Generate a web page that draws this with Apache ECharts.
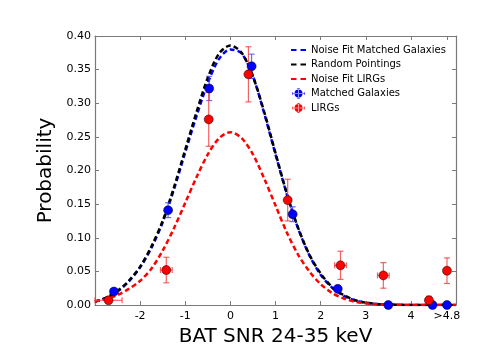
<!DOCTYPE html>
<html>
<head>
<meta charset="utf-8">
<script src="https://cdn.jsdelivr.net/npm/echarts@6/dist/echarts.min.js"></script>
<style>
  html, body { margin: 0; padding: 0; background: #fff; }
  #chart { width: 480px; height: 360px; }
</style>
</head>
<body>
<div id="chart"></div>
<script>
// curve sample positions (SNR)
const curveX = [-3, -2.75, -2.5, -2.25, -2, -1.75, -1.5, -1.25, -1, -0.75, -0.5, -0.25, 0,
  0.25, 0.5, 0.75, 1, 1.25, 1.5, 1.75, 2, 2.25, 2.5, 2.75, 3, 3.25, 3.5, 3.75, 4, 4.25, 4.5, 4.75, 5];

// Noise Fit Matched Galaxies
const fitMatched = [0.005, 0.011, 0.020, 0.035, 0.056, 0.085, 0.123, 0.172, 0.227, 0.281, 0.330, 0.366, 0.380,
  0.374, 0.340, 0.285, 0.224, 0.165, 0.114, 0.074, 0.045, 0.026, 0.014, 0.007, 0.0033, 0.0015, 0.0006, 0.0002, 0.0001, 0, 0, 0, 0];
// Random Pointings
const randomPointings = [0.005, 0.011, 0.021, 0.036, 0.057, 0.087, 0.125, 0.175, 0.231, 0.287, 0.338, 0.374, 0.386,
  0.375, 0.340, 0.287, 0.226, 0.166, 0.115, 0.075, 0.047, 0.027, 0.015, 0.0075, 0.0035, 0.0016, 0.0007, 0.0003, 0.0001, 0, 0, 0, 0];
// Noise Fit LIRGs
const fitLirgs = [0.005, 0.009, 0.015, 0.024, 0.036, 0.054, 0.081, 0.114, 0.152, 0.190, 0.224, 0.248, 0.257,
  0.248, 0.224, 0.188, 0.148, 0.108, 0.075, 0.050, 0.031, 0.018, 0.010, 0.005, 0.0025, 0.0012, 0.0005, 0.0002, 0.0001, 0, 0, 0, 0];

// Matched Galaxies points
const matchedX = [-2.58, -1.38, -0.47, 0.47, 1.38, 2.38, 3.5, 4.48, 4.8];
const matchedY = [0.020, 0.141, 0.322, 0.355, 0.135, 0.024, 0.0, 0.0, 0.0];
const matchedYErr = [0.004, 0.011, 0.018, 0.018, 0.011, 0.004, 0.001, 0.001, 0.001];
const matchedXErr = [0, 0, 0, 0, 0, 0, 0, 0, 0];

// LIRGs points
const lirgX = [-2.7, -1.42, -0.48, 0.4, 1.27, 2.44, 3.39, 4.4, 4.8];
const lirgY = [0.007, 0.052, 0.276, 0.343, 0.156, 0.059, 0.044, 0.007, 0.051];
const lirgYErr = [0.002, 0.019, 0.040, 0.041, 0.031, 0.021, 0.019, 0.006, 0.019];
const lirgXErr = [0.3, 0.13, 0, 0, 0, 0.13, 0.13, 0, 0];

const xTicks = [-2, -1, 0, 1, 2, 3, 4, 4.8];

const font = 'DejaVu Sans';
const frameColor = '#7a7a7a';

function zipCurve(ys) {
  return curveX.map((x, i) => [x, ys[i]]);
}

function errorRender(color) {
  return function (params, api) {
    const x = api.value(0), y = api.value(1), ex = api.value(2), ey = api.value(3);
    const style = { stroke: color, lineWidth: 1.2 };
    const children = [];
    const top = api.coord([x, y + ey]);
    const bot = api.coord([x, y - ey]);
    children.push({ type: 'line', shape: { x1: top[0], y1: top[1], x2: bot[0], y2: bot[1] }, style: style });
    children.push({ type: 'line', shape: { x1: top[0] - 3, y1: top[1], x2: top[0] + 3, y2: top[1] }, style: style });
    children.push({ type: 'line', shape: { x1: bot[0] - 3, y1: bot[1], x2: bot[0] + 3, y2: bot[1] }, style: style });
    if (ex > 0) {
      const l = api.coord([x - ex, y]);
      const r = api.coord([x + ex, y]);
      children.push({ type: 'line', shape: { x1: l[0], y1: l[1], x2: r[0], y2: r[1] }, style: style });
      children.push({ type: 'line', shape: { x1: l[0], y1: l[1] - 3, x2: l[0], y2: l[1] + 3 }, style: style });
      children.push({ type: 'line', shape: { x1: r[0], y1: r[1] - 3, x2: r[0], y2: r[1] + 3 }, style: style });
    }
    return { type: 'group', children: children };
  };
}

// legend icons: dashed line, and dot with error cross (30x20 box)
const dashIcon = 'path://M0,0 M30,20 M0,8H11V12H0Z M19,8H30V12H19Z';
const errIcon = 'path://M0,0 M30,20 M2,9.4H28V10.6H2Z M2,7H3V13H2Z M27,7H28V13H27Z M14.4,0H15.6V20H14.4Z M12,0H18V1H12Z M12,19H18V20H12Z ' +
  'M7,10A8,8 0 1,0 23,10A8,8 0 1,0 7,10Z';
const noBorder = { borderWidth: 0 };

const chart = echarts.init(document.getElementById('chart'));
const option = {
  animation: false,
  textStyle: { fontFamily: font },
  grid: { left: 95, right: 24, top: 36, bottom: 55, show: false },
  legend: {
    orient: 'vertical',
    left: 286,
    top: 40,
    itemWidth: 15,
    itemHeight: 10,
    itemGap: 4.5,
    textStyle: { fontFamily: font, fontSize: 10, color: '#000' },
    data: [
      { name: 'Noise Fit Matched Galaxies', icon: dashIcon, itemStyle: noBorder },
      { name: 'Random Pointings', icon: dashIcon, itemStyle: noBorder },
      { name: 'Noise Fit LIRGs', icon: dashIcon, itemStyle: noBorder },
      { name: 'Matched Galaxies', icon: errIcon, itemStyle: noBorder },
      { name: 'LIRGs', icon: errIcon, itemStyle: noBorder }
    ]
  },
  xAxis: [
    {
      type: 'value', min: -3, max: 5,
      name: 'BAT SNR 24-35 keV', nameLocation: 'middle', nameGap: 8,
      nameTextStyle: { fontFamily: font, fontSize: 20, color: '#000' },
      axisLine: { show: true, onZero: false, lineStyle: { color: frameColor, width: 1.2 } },
      axisTick: { show: true, inside: true, length: 4, customValues: xTicks, lineStyle: { color: frameColor } },
      axisLabel: {
        customValues: xTicks, margin: 6, fontSize: 11, color: '#000', fontFamily: font,
        formatter: v => (Math.abs(v - 4.8) < 1e-6 ? '>4.8' : String(v))
      },
      splitLine: { show: false }
    },
    {
      type: 'value', min: -3, max: 5, position: 'top',
      axisLine: { show: true, onZero: false, lineStyle: { color: frameColor, width: 1.2 } },
      axisTick: { show: true, inside: true, length: 4, customValues: xTicks, lineStyle: { color: frameColor } },
      axisLabel: { show: false },
      splitLine: { show: false }
    }
  ],
  yAxis: [
    {
      type: 'value', min: 0, max: 0.4, interval: 0.05,
      name: 'Probability', nameLocation: 'middle', nameGap: 28,
      nameTextStyle: { fontFamily: font, fontSize: 20, color: '#000' },
      axisLine: { show: true, onZero: false, lineStyle: { color: frameColor, width: 1.2 } },
      axisTick: { show: true, inside: true, length: 4, lineStyle: { color: frameColor } },
      axisLabel: { margin: 4, fontSize: 11, color: '#000', fontFamily: font, formatter: v => v.toFixed(2) },
      splitLine: { show: false }
    },
    {
      type: 'value', min: 0, max: 0.4, interval: 0.05, position: 'right',
      axisLine: { show: true, onZero: false, lineStyle: { color: frameColor, width: 1.2 } },
      axisTick: { show: true, inside: true, length: 4, lineStyle: { color: frameColor } },
      axisLabel: { show: false },
      splitLine: { show: false }
    }
  ],
  series: [
    {
      name: 'Noise Fit Matched Galaxies', type: 'line', smooth: 0.3, symbol: 'none',
      data: zipCurve(fitMatched), z: 2,
      lineStyle: { color: '#0000ff', width: 2.5, type: [5, 3] }, itemStyle: { color: '#0000ff' }
    },
    {
      name: 'Random Pointings', type: 'line', smooth: 0.3, symbol: 'none',
      data: zipCurve(randomPointings), z: 3,
      lineStyle: { color: '#000000', width: 2.5, type: [5, 3] }, itemStyle: { color: '#000000' }
    },
    {
      name: 'Noise Fit LIRGs', type: 'line', smooth: 0.3, symbol: 'none',
      data: zipCurve(fitLirgs), z: 3,
      lineStyle: { color: '#ff0000', width: 2.5, type: [5, 3] }, itemStyle: { color: '#ff0000' }
    },
    {
      name: 'matched-err', type: 'custom', z: 4,
      renderItem: errorRender('rgba(60,60,255,0.75)'),
      data: matchedX.map((x, i) => [x, matchedY[i], matchedXErr[i], matchedYErr[i]])
    },
    {
      name: 'lirg-err', type: 'custom', z: 4,
      renderItem: errorRender('rgba(240,60,60,0.8)'),
      data: lirgX.map((x, i) => [x, lirgY[i], lirgXErr[i], lirgYErr[i]])
    },
    {
      name: 'Matched Galaxies', type: 'scatter', symbolSize: 9, z: 5,
      data: matchedX.map((x, i) => [x, matchedY[i]]),
      itemStyle: { color: '#0000ff', borderColor: '#000', borderWidth: 0.5, opacity: 1 }
    },
    {
      name: 'LIRGs', type: 'scatter', symbolSize: 9, z: 5,
      data: lirgX.map((x, i) => [x, lirgY[i]]),
      itemStyle: { color: '#ff0000', borderColor: '#000', borderWidth: 0.5, opacity: 1 }
    }
  ]
};
chart.setOption(option);
</script>
</body>
</html>
